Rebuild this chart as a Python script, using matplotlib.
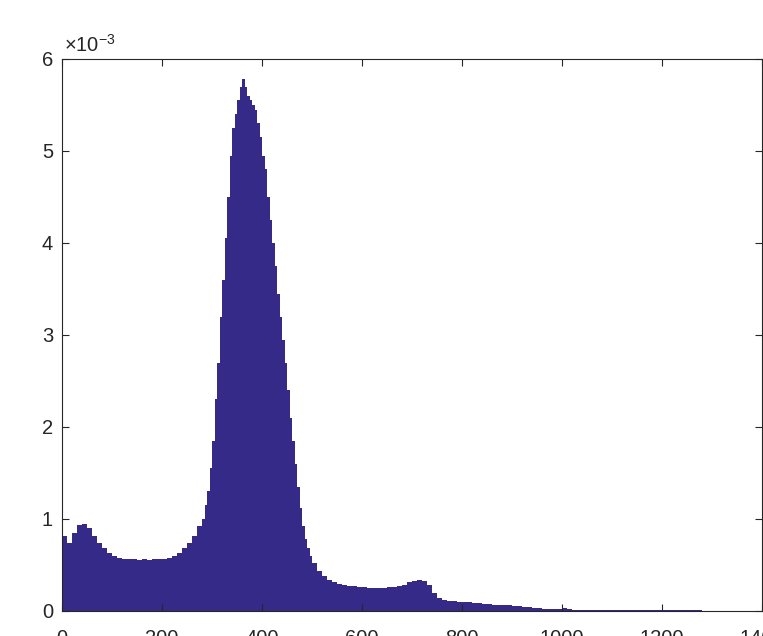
import numpy as np
import matplotlib
matplotlib.use("Agg")
import matplotlib.pyplot as plt

# histogram, probability per unit in units of 1e-3
# 0-280 in bins of 10
prob_low = [
    0.82, 0.74, 0.85, 0.93, 0.95, 0.90, 0.82, 0.74, 0.68, 0.63,
    0.60, 0.58, 0.57, 0.56, 0.56, 0.55, 0.56, 0.55, 0.56, 0.56,
    0.57, 0.58, 0.60, 0.63, 0.68, 0.74, 0.82, 0.92,
]
# 280-500 in bins of 5 (main peak)
prob_peak = [
    1.00, 1.15, 1.30, 1.55, 1.85, 2.30, 2.70, 3.20, 3.60, 4.05,
    4.50, 4.95, 5.25, 5.40, 5.55, 5.70, 5.78, 5.70, 5.60, 5.55,
    5.50, 5.45, 5.30, 5.15, 4.95, 4.80, 4.50, 4.25, 4.00, 3.75,
    3.45, 3.20, 2.95, 2.70, 2.40, 2.10, 1.85, 1.60, 1.35, 1.12,
    0.92, 0.78, 0.68, 0.60,
]
# 500-1280 in bins of 10
prob_tail = [
    0.52, 0.44, 0.38, 0.34, 0.31, 0.29, 0.28, 0.27, 0.27, 0.26,
    0.26, 0.25, 0.25, 0.25, 0.25, 0.26, 0.26, 0.27, 0.28, 0.31,
    0.33, 0.34, 0.33, 0.28, 0.20, 0.14, 0.12, 0.11, 0.11, 0.10,
    0.10, 0.095, 0.09, 0.085, 0.08, 0.075, 0.07, 0.068, 0.065, 0.06,
    0.055, 0.05, 0.045, 0.04, 0.035, 0.03, 0.027, 0.024, 0.021, 0.02,
    0.03, 0.018, 0.016, 0.015, 0.014, 0.013, 0.012, 0.011, 0.011, 0.010,
    0.010, 0.010, 0.009, 0.009, 0.009, 0.008, 0.008, 0.008, 0.008, 0.008,
    0.007, 0.007, 0.007, 0.007, 0.007, 0.007, 0.006, 0.006,
]
x_ticks = [0, 200, 400, 600, 800, 1000, 1200, 1400]
y_ticks = [0, 1, 2, 3, 4, 5, 6]

plt.rcParams['font.family'] = ['Liberation Sans', 'DejaVu Sans']
plt.rcParams['mathtext.fontset'] = 'custom'
plt.rcParams['mathtext.rm'] = 'Liberation Sans'

axis_col = '#262626'
bar_col = '#352A87'

# bin left edges and widths for the three segments
lefts = np.concatenate([
    0 + 10 * np.arange(len(prob_low)),
    280 + 5 * np.arange(len(prob_peak)),
    500 + 10 * np.arange(len(prob_tail)),
])
widths = np.concatenate([
    np.full(len(prob_low), 10.0),
    np.full(len(prob_peak), 5.0),
    np.full(len(prob_tail), 10.0),
])
heights = np.array(prob_low + prob_peak + prob_tail) * 1e-3

fig = plt.figure(figsize=(7.63, 6.36), dpi=100)
ax = fig.add_axes([62 / 763, 1 - 611 / 636, 700 / 763, 552 / 636])

ax.bar(lefts, heights, width=widths, align='edge', color=bar_col, linewidth=0)

ax.set_xlim(0, 1400)
ax.set_ylim(0, 6e-3)
ax.set_xticks(x_ticks)
ax.set_xticklabels([str(t) for t in x_ticks])
ax.set_yticks([t * 1e-3 for t in y_ticks])
ax.set_yticklabels([str(t) for t in y_ticks])

for s in ax.spines.values():
    s.set_color(axis_col)
    s.set_linewidth(0.8)
ax.tick_params(direction='in', length=5, width=0.8, color=axis_col,
               labelcolor=axis_col, labelsize=14.5, top=True, right=True)
ax.tick_params(axis='x', pad=13)
ax.tick_params(axis='y', pad=6.5)

ax.text(0.003, 1.006, r'$\mathregular{\times10^{-3}}$', transform=ax.transAxes,
        fontsize=14.5, color=axis_col, ha='left', va='bottom')

fig.savefig('out.png', dpi=100)
